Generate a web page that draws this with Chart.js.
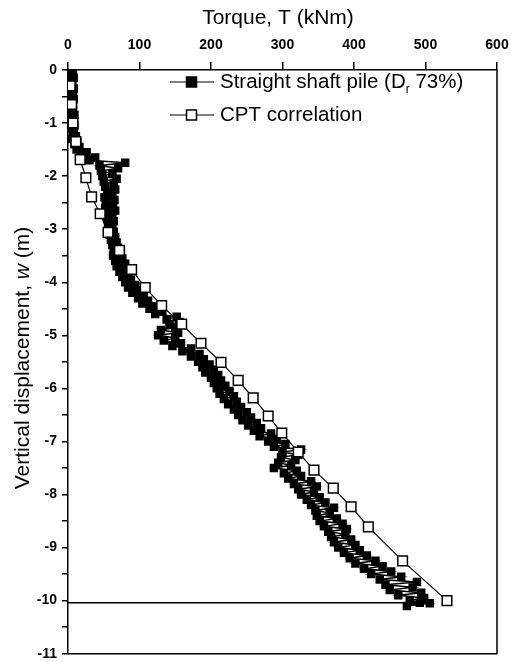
<!DOCTYPE html>
<html>
<head>
<meta charset="utf-8">
<script src="https://cdn.jsdelivr.net/npm/chart.js@4/dist/chart.umd.min.js"></script>
<style>
  html, body { margin: 0; padding: 0; background: #fff; }
  #wrap { width: 511px; height: 662px; position: relative; }
</style>
</head>
<body>
<div id="wrap"><canvas id="torqueChart"></canvas></div>
<script>
const pileDepth = [
  0, -0.05, -0.1, -0.15, -0.2, -0.25, -0.3, -0.35, -0.4, -0.45,
  -0.5, -0.55, -0.6, -0.65, -0.7, -0.75, -0.8, -0.85, -0.9, -0.95,
  -1.0, -1.05, -1.1, -1.15, -1.2, -1.25, -1.3, -1.35, -1.4, -1.45,
  -1.5, -1.55, -1.6, -1.65, -1.7, -1.75, -1.8, -1.85, -1.9, -1.95,
  -2.0, -2.05, -2.1, -2.15, -2.2, -2.25, -2.3, -2.35, -2.4, -2.45,
  -2.5, -2.55, -2.6, -2.65, -2.7, -2.75, -2.8, -2.85, -2.9, -2.95,
  -3.0, -3.05, -3.1, -3.15, -3.2, -3.25, -3.3, -3.35, -3.4, -3.45,
  -3.5, -3.55, -3.6, -3.65, -3.7, -3.75, -3.8, -3.85, -3.9, -3.95,
  -4.0, -4.05, -4.1, -4.15, -4.2, -4.25, -4.3, -4.35, -4.4, -4.45,
  -4.5, -4.55, -4.6, -4.65, -4.7, -4.75, -4.8, -4.85, -4.9, -4.95,
  -5.0, -5.05, -5.1, -5.15, -5.2, -5.25, -5.3, -5.35, -5.4, -5.45,
  -5.5, -5.55, -5.6, -5.65, -5.7, -5.75, -5.8, -5.85, -5.9, -5.95,
  -6.0, -6.05, -6.1, -6.15, -6.2, -6.25, -6.3, -6.35, -6.4, -6.45,
  -6.5, -6.55, -6.6, -6.65, -6.7, -6.75, -6.8, -6.85, -6.9, -6.95,
  -7.0, -7.05, -7.1, -7.15, -7.2, -7.25, -7.3, -7.35, -7.4, -7.45,
  -7.5, -7.55, -7.6, -7.65, -7.7, -7.75, -7.8, -7.85, -7.9, -7.95,
  -8.0, -8.05, -8.1, -8.15, -8.2, -8.25, -8.3, -8.35, -8.4, -8.45,
  -8.5, -8.55, -8.6, -8.65, -8.7, -8.75, -8.8, -8.85, -8.9, -8.95,
  -9.0, -9.05, -9.1, -9.15, -9.2, -9.25, -9.3, -9.35, -9.4, -9.45,
  -9.5, -9.55, -9.6, -9.65, -9.7, -9.75, -9.8, -9.85, -9.9, -9.95,
  -10.0, -10.05, -10.1, -10.04, -10.04];
const pileTorque = [
  4, 7, 5, 8, 3, 6, 4, 8, 5, 7,
  4, 8, 5, 7, 3, 7, 5, 9, 4, 8,
  6, 9, 5, 8, 7, 11, 6, 13, 9, 16,
  12, 26, 18, 38, 30, 80, 44, 70, 46, 62,
  48, 68, 50, 64, 52, 66, 55, 62, 51, 65,
  53, 63, 52, 66, 54, 62, 55, 64, 56, 62,
  57, 64, 58, 66, 60, 68, 62, 70, 64, 74,
  63, 76, 66, 80, 68, 78, 72, 84, 76, 88,
  80, 94, 84, 98, 90, 106, 98, 112, 104, 122,
  114, 132, 122, 152, 138, 156, 142, 150, 130, 154,
  126, 150, 134, 158, 146, 172, 160, 184, 172, 190,
  182, 198, 188, 204, 192, 210, 200, 214, 204, 220,
  208, 226, 212, 232, 218, 236, 224, 242, 232, 250,
  238, 256, 244, 264, 252, 270, 260, 284, 268, 292,
  280, 304, 288, 326, 300, 322, 298, 318, 294, 312,
  288, 320, 302, 326, 308, 340, 316, 348, 322, 344,
  326, 352, 334, 360, 340, 372, 346, 366, 348, 376,
  352, 384, 358, 390, 364, 388, 368, 396, 372, 402,
  378, 408, 386, 418, 394, 430, 402, 440, 414, 452,
  424, 466, 436, 488, 444, 482, 450, 494, 462, 498,
  478, 506, 474, 492, 0];

// CPT correlation
const cptDepth = [-0.3, -0.65, -1.0, -1.35, -1.69, -2.03, -2.39, -2.71, -3.06, -3.40, -3.76, -4.10, -4.44,
  -4.79, -5.15, -5.51, -5.85, -6.18, -6.52, -6.84, -7.20, -7.54, -7.88, -8.23, -8.61, -9.25, -10.0];
const cptTorque = [3, 5, 7, 11, 17, 25, 33, 45, 56, 72, 89, 108, 131,
  159, 186, 214, 238, 259, 280, 299, 322, 344, 371, 396, 420, 468, 530];

// axes
const xTicks = [0, 100, 200, 300, 400, 500, 600];
const yTicks = [0, -1, -2, -3, -4, -5, -6, -7, -8, -9, -10, -11];

const FONT = '"Liberation Sans", Arial, sans-serif';

const toXY = (xs, ys) => xs.map((x, i) => ({ x: x, y: ys[i] }));

// titles, legend and frame are drawn by hand (italic w, subscript r, line+marker keys)
const decor = {
  id: 'decor',
  afterDraw(chart) {
    const ctx = chart.ctx;
    const a = chart.chartArea;
    ctx.save();
    // frame on right & bottom
    ctx.strokeStyle = '#000';
    ctx.lineWidth = 1.5;
    ctx.beginPath();
    ctx.moveTo(a.right, a.top);
    ctx.lineTo(a.right, a.bottom);
    ctx.lineTo(a.left, a.bottom);
    ctx.stroke();

    ctx.fillStyle = '#000';
    ctx.textBaseline = 'middle';

    // x title
    ctx.font = '21px ' + FONT;
    ctx.textAlign = 'center';
    ctx.fillText('Torque, T (kNm)', 278, 18);

    // y title with italic w
    ctx.translate(23, 358);
    ctx.rotate(-Math.PI / 2);
    const p1 = 'Vertical displacement, ', p2 = 'w', p3 = ' (m)';
    ctx.font = '21px ' + FONT;
    const w1 = ctx.measureText(p1).width, w3 = ctx.measureText(p3).width;
    ctx.font = 'italic 21px ' + FONT;
    const w2 = ctx.measureText(p2).width;
    const x0 = -(w1 + w2 + w3) / 2;
    ctx.textAlign = 'left';
    ctx.font = '21px ' + FONT;
    ctx.fillText(p1, x0, 0);
    ctx.font = 'italic 21px ' + FONT;
    ctx.fillText(p2, x0 + w1, 0);
    ctx.font = '21px ' + FONT;
    ctx.fillText(p3, x0 + w1 + w2, 0);
    ctx.setTransform(1, 0, 0, 1, 0, 0);

    // legend
    const rows = [
      { y: 82, fill: '#000' },
      { y: 115, fill: '#fff' }
    ];
    rows.forEach(r => {
      ctx.lineWidth = 1.2;
      ctx.strokeStyle = '#000';
      ctx.beginPath();
      ctx.moveTo(170, r.y);
      ctx.lineTo(214, r.y);
      ctx.stroke();
      ctx.fillStyle = r.fill;
      ctx.fillRect(186.5, r.y - 5, 10, 10);
      ctx.lineWidth = 1.5;
      ctx.strokeRect(186.5, r.y - 5, 10, 10);
    });
    ctx.fillStyle = '#000';
    ctx.textAlign = 'left';
    ctx.font = '20.5px ' + FONT;
    const t1 = 'Straight shaft pile (D';
    ctx.fillText(t1, 220, rows[0].y);
    let tx = 220 + ctx.measureText(t1).width;
    ctx.font = '12px ' + FONT;
    ctx.fillText('r', tx, rows[0].y + 8);
    tx += ctx.measureText('r').width;
    ctx.font = '20.5px ' + FONT;
    ctx.fillText(' 73%)', tx, rows[0].y);
    ctx.fillText('CPT correlation', 220, rows[1].y);
    ctx.restore();
  }
};

const ctx = document.getElementById('torqueChart').getContext('2d');
new Chart(ctx, {
  type: 'scatter',
  data: {
    datasets: [{
      label: 'Straight shaft pile (Dr 73%)',
      data: toXY(pileTorque, pileDepth),
      showLine: true,
      borderColor: '#000',
      borderWidth: 1.5,
      backgroundColor: '#000',
      pointStyle: 'rect',
      pointRadius: pileTorque.map((v, i) => i === pileTorque.length - 1 ? 0 : 6),
      pointBorderWidth: 0,
      order: 2
    }, {
      label: 'CPT correlation',
      data: toXY(cptTorque, cptDepth),
      showLine: true,
      borderColor: '#000',
      borderWidth: 1.2,
      backgroundColor: '#fff',
      pointStyle: 'rect',
      pointRadius: 6.8,
      pointBorderWidth: 1.5,
      order: 1
    }]
  },
  options: {
    responsive: true,
    maintainAspectRatio: false,
    animation: false,
    layout: { padding: { left: 0, top: 0, right: 14, bottom: 5 } },
    plugins: {
      legend: { display: false },
      tooltip: { enabled: false }
    },
    scales: {
      x: {
        type: 'linear',
        position: 'top',
        min: 0,
        max: 600,
        afterFit: s => { s.height = 70; s.paddingLeft = 0; s.paddingRight = 0; },
        afterBuildTicks: s => { s.ticks = xTicks.map(v => ({ value: v })); },
        ticks: {
          color: '#000',
          padding: 8,
          font: { family: FONT, size: 14, weight: 'bold' }
        },
        grid: { drawOnChartArea: false, tickLength: 8, color: '#000', lineWidth: 1.5 },
        border: { color: '#000', width: 1.5 }
      },
      y: {
        type: 'linear',
        min: -11,
        max: 0,
        afterFit: s => { s.width = 68; s.paddingTop = 0; s.paddingBottom = 0; },
        ticks: {
          stepSize: 0.5,
          color: '#000',
          padding: 5,
          font: { family: FONT, size: 14, weight: 'bold' },
          callback: v => (yTicks.includes(v) ? String(v) : '')
        },
        grid: { drawOnChartArea: false, tickLength: 6, color: '#000', lineWidth: 1.5 },
        border: { color: '#000', width: 1.5 }
      }
    }
  },
  plugins: [decor]
});
</script>
</body>
</html>
